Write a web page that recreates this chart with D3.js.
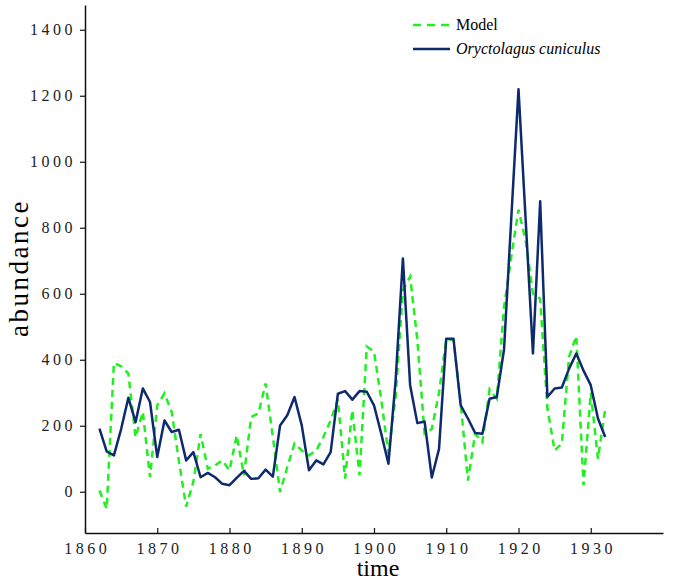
<!DOCTYPE html>
<html>
<head>
<meta charset="utf-8">
<script src="https://cdn.jsdelivr.net/npm/d3@7"></script>
<style>
  body { margin: 0; background: #fff; }
</style>
</head>
<body>
<div id="chart-area"></div>
<script>
// yearly values, 1862 - 1932
let years = d3.range(1862, 1933);

let observed = [191, 122, 110, 190, 285, 211, 313, 272, 105, 216,
	181, 188, 95, 120, 44, 57, 44, 24, 20, 42,
	63, 39, 41, 67, 46, 201, 232, 287, 201, 65,
	95, 83, 120, 297, 305, 279, 305, 303, 262, 176,
	85, 340, 707, 323, 208, 213, 43, 130, 464, 464,
	262, 222, 178, 176, 282, 287, 432, 828, 1220, 820,
	419, 880, 287, 313, 316, 373, 419, 367, 323, 222,
	166];

let model = [4, -52, 390, 380, 358, 165, 242, 44, 262, 298,
	242, 93, -45, 30, 175, 70, 80, 95, 65, 171,
	50, 227, 237, 328, 166, -1, 75, 146, 125, 110,
	125, 166, 216, 280, 40, 247, 50, 440, 425, 280,
	115, 290, 610, 652, 460, 176, 190, 300, 462, 460,
	270, 34, 176, 150, 310, 282, 560, 712, 855, 760,
	600, 585, 253, 125, 146, 409, 472, 20, 300, 100,
	250];

let xTicks = [1860, 1870, 1880, 1890, 1900, 1910, 1920, 1930];
let yTicks = [0, 200, 400, 600, 800, 1000, 1200, 1400];

let seriesNames = ["Model", "Oryctolagus cuniculus"];

let serif = "'Liberation Serif', 'Times New Roman', 'DejaVu Serif', serif";

let svg = d3.select("#chart-area").append("svg")
	.attr("width", 674)
	.attr("height", 580)
	.attr("font-family", serif)

let x = d3.scaleLinear().domain([1860, 1940]).range([85, 663]);
let y = d3.scaleLinear().domain([-125, 1475]).range([533, 5]);

// axes
let xAxis = svg.append("g")
	.attr("transform", "translate(0,533)")
	.call(d3.axisBottom(x).tickValues(xTicks).tickFormat(d3.format("d"))
		.tickSize(-5).tickSizeOuter(0).tickPadding(10));

let yAxis = svg.append("g")
	.attr("transform", "translate(85,0)")
	.call(d3.axisLeft(y).tickValues(yTicks).tickFormat(d3.format("d"))
		.tickSize(5).tickSizeOuter(0).tickPadding(4));

xAxis.attr("font-family", serif).attr("font-size", 16);
yAxis.attr("font-family", serif).attr("font-size", 16);

svg.selectAll(".domain").attr("stroke", "#111").attr("stroke-width", 1.5);
svg.selectAll(".tick line").attr("stroke", "#111").attr("stroke-width", 1.2);
svg.selectAll(".tick text")
	.attr("fill", "#222")
	.attr("letter-spacing", "3.5px");
xAxis.selectAll(".tick text").attr("dx", "1.75");

// lines
let line = function(values) {
	return d3.line()
		.x(function(d, i) { return x(years[i]); })
		.y(function(d) { return y(d); })(values);
}

svg.append("path")
	.attr("d", line(model))
	.attr("fill", "none")
	.attr("stroke", "#22ee22")
	.attr("stroke-width", 2.5)
	.attr("stroke-dasharray", "7,5");

svg.append("path")
	.attr("d", line(observed))
	.attr("fill", "none")
	.attr("stroke", "#0e2a6e")
	.attr("stroke-width", 2.5)
	.attr("stroke-linejoin", "round");

// legend
let legend = svg.append("g");
legend.append("line")
	.attr("x1", 413).attr("x2", 450).attr("y1", 25).attr("y2", 25)
	.attr("stroke", "#22ee22").attr("stroke-width", 2.5)
	.attr("stroke-dasharray", "8,6");
legend.append("line")
	.attr("x1", 413).attr("x2", 450).attr("y1", 49).attr("y2", 49)
	.attr("stroke", "#0e2a6e").attr("stroke-width", 2.5);
legend.append("text")
	.attr("x", 456).attr("y", 30)
	.attr("font-size", 16)
	.text(seriesNames[0]);
legend.append("text")
	.attr("x", 456).attr("y", 54)
	.attr("font-size", 16)
	.attr("font-style", "italic")
	.text(seriesNames[1]);

// axis titles
svg.append("text")
	.attr("x", 378).attr("y", 576)
	.attr("text-anchor", "middle")
	.attr("font-size", 24)
	.text("time");

svg.append("text")
	.attr("transform", "translate(28,268) rotate(-90)")
	.attr("text-anchor", "middle")
	.attr("font-size", 27)
	.attr("letter-spacing", "2.5px")
	.text("abundance");
</script>
</body>
</html>
